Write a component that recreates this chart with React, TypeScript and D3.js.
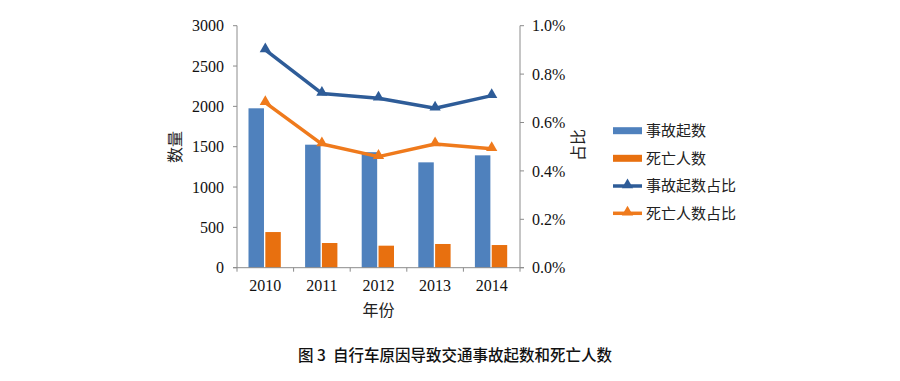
import React from "react";
import * as d3 from "d3";

const years = ["2010", "2011", "2012", "2013", "2014"];
const accidents = [1976, 1525, 1432, 1306, 1393];
const deaths = [442, 306, 273, 294, 281];
const accidentShare = [0.0090, 0.0072, 0.0070, 0.00659, 0.00711];
const deathShare = [0.00682, 0.00511, 0.00459, 0.00511, 0.00492];
const leftTicks = [0, 500, 1000, 1500, 2000, 2500, 3000];
const rightTicks = [0, 0.002, 0.004, 0.006, 0.008, 0.01];
const legendLabels = ["事故起数", "死亡人数", "事故起数占比", "死亡人数占比"];
const title = "图 3  自行车原因导致交通事故起数和死亡人数";

const W = 900;
const H = 381;
const M = { left: 237, right: 520, top: 25.7, bottom: 267.7 };

const BAR_BLUE = "#4F81BD";
const BAR_ORANGE = "#E8700F";
const LINE_BLUE = "#2E5C98";
const LINE_ORANGE = "#EF7A1C";
const AXIS = "#8C8C8C";
const SERIF = "'Liberation Serif', 'Times New Roman', serif";
const CJK = "'Noto Sans CJK SC', sans-serif";

export default function App() {
  const x = d3.scaleBand().domain(years).range([M.left, M.right]).padding(0);
  const sub = d3.scaleBand().domain(["a", "d"]).range([-16.8, 15.5]).paddingInner(0.08);
  const yL = d3.scaleLinear().domain([0, 3000]).range([M.bottom, M.top]);
  const yR = d3.scaleLinear().domain([0, 0.01]).range([M.bottom, M.top]);
  const cx = (y: string) => (x(y) as number) + x.bandwidth() / 2;

  const line = (vals: number[]) =>
    d3.line<number>().x((_, i) => cx(years[i])).y((v) => yR(v))(vals) as string;

  const tri = d3.symbol().type(d3.symbolTriangle).size(55)() as string;

  const bars = [
    { vals: accidents, key: "a", color: BAR_BLUE },
    { vals: deaths, key: "d", color: BAR_ORANGE },
  ];
  const lines = [
    { vals: accidentShare, color: LINE_BLUE },
    { vals: deathShare, color: LINE_ORANGE },
  ];

  const catEdges = years.map((y) => x(y) as number).concat([M.right]);
  const legendX = 613;
  const legendY = [130.7, 158.3, 186, 213.3];

  return (
    <svg
      width={W}
      height={H}
      style={{ position: "absolute", left: 0, top: 0, background: "#fff" }}
    >
      <rect width={W} height={H} fill="#fff" />
      {/* bars */}
      {bars.map((b) =>
        b.vals.map((v, i) => (
          <rect
            key={b.key + i}
            x={cx(years[i]) + (sub(b.key) as number)}
            y={yL(v)}
            width={sub.bandwidth()}
            height={M.bottom - yL(v)}
            fill={b.color}
          />
        ))
      )}
      {/* axes */}
      <g stroke={AXIS} strokeWidth={1} fill="none">
        <line x1={M.left} x2={M.left} y1={M.top} y2={M.bottom} />
        <line x1={M.right} x2={M.right} y1={M.top} y2={M.bottom} />
        <line x1={M.left - 4} x2={M.right + 4} y1={M.bottom} y2={M.bottom} />
        {leftTicks.map((t) => (
          <line key={"lt" + t} x1={M.left - 4} x2={M.left} y1={yL(t)} y2={yL(t)} />
        ))}
        {rightTicks.map((t) => (
          <line key={"rt" + t} x1={M.right} x2={M.right + 4} y1={yR(t)} y2={yR(t)} />
        ))}
        {catEdges.map((e, i) => (
          <line key={"xt" + i} x1={e} x2={e} y1={M.bottom} y2={M.bottom + 4} />
        ))}
      </g>
      {/* lines */}
      {lines.map((l, li) => (
        <g key={"l" + li}>
          <path d={line(l.vals)} fill="none" stroke={l.color} strokeWidth={3.5} strokeLinejoin="round" />
          {l.vals.map((v, i) => (
            <path
              key={i}
              d={tri}
              transform={`translate(${cx(years[i])},${yR(v) - 1})`}
              fill={l.color}
            />
          ))}
        </g>
      ))}
      {/* tick labels */}
      <g fontFamily={SERIF} fontSize={16} fill="#111">
        {leftTicks.map((t) => (
          <text key={"ll" + t} x={M.left - 13} y={yL(t)} dy="0.35em" textAnchor="end">
            {d3.format("d")(t)}
          </text>
        ))}
        {rightTicks.map((t) => (
          <text key={"rl" + t} x={M.right + 12} y={yR(t)} dy="0.35em" textAnchor="start">
            {d3.format(".1%")(t)}
          </text>
        ))}
        {years.map((y) => (
          <text key={"xl" + y} x={cx(y)} y={285} dy="0.35em" textAnchor="middle">
            {y}
          </text>
        ))}
      </g>
      {/* axis titles */}
      <g fontFamily={CJK} fontSize={16} fill="#222">
        <text x={(M.left + M.right) / 2} y={310} dy="0.35em" textAnchor="middle">
          年份
        </text>
        <text transform="translate(175,147) rotate(-90)" dy="0.35em" textAnchor="middle">
          数量
        </text>
        <text transform="translate(578,145) rotate(-90)" dy="0.35em" textAnchor="middle">
          占比
        </text>
      </g>
      {/* legend */}
      <g fontFamily={CJK} fontSize={15} fill="#222">
        {legendLabels.map((lab, i) => {
          const y = legendY[i];
          const color = [BAR_BLUE, BAR_ORANGE, LINE_BLUE, LINE_ORANGE][i];
          return (
            <g key={lab}>
              {i < 2 ? (
                <rect x={legendX} y={y - 3.5} width={29} height={7} fill={color} />
              ) : (
                <g>
                  <line x1={legendX} x2={legendX + 29} y1={y} y2={y} stroke={color} strokeWidth={3.5} />
                  <path d={tri} transform={`translate(${legendX + 14.5},${y - 1})`} fill={color} />
                </g>
              )}
              <text x={legendX + 33} y={y} dy="0.35em">
                {lab}
              </text>
            </g>
          );
        })}
      </g>
      {/* title */}
      <text
        x={455}
        y={356}
        dy="0.35em"
        textAnchor="middle"
        fontFamily={CJK}
        fontSize={15.5}
        fontWeight={500}
        fill="#111"
        style={{ whiteSpace: "pre" }}
      >
        {title}
      </text>
    </svg>
  );
}
